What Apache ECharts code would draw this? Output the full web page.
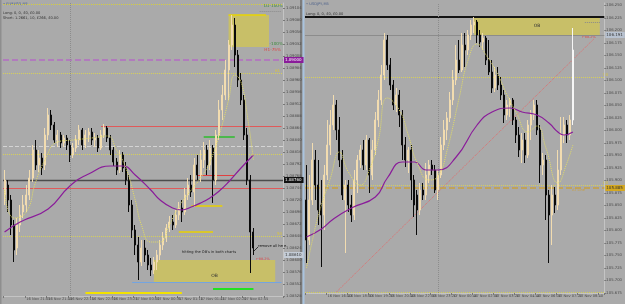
<!DOCTYPE html>
<html><head><meta charset="utf-8">
<script src="https://cdn.jsdelivr.net/npm/echarts@6/dist/echarts.min.js"></script>
<style>html,body{margin:0;padding:0;background:#aaaaaa}#c{width:625px;height:304px}</style>
</head><body><div id="c"></div>
<script>
// ---------- LEFT PANEL (EURUSD M5) ----------
// [open, close, low, high]
const leftCandles = [
[1.08730,1.08760,1.08710,1.08780],[1.08750,1.08720,1.08696,1.08760],[1.08720,1.08670,1.08650,1.08730],
[1.08670,1.08620,1.08596,1.08680],[1.08624,1.08670,1.08610,1.08684],[1.08670,1.08690,1.08656,1.08710],
[1.08696,1.08710,1.08684,1.08730],[1.08710,1.08730,1.08696,1.08750],[1.08730,1.08764,1.08720,1.08780],
[1.08764,1.08820,1.08756,1.08830],[1.08820,1.08790,1.08780,1.08840],[1.08790,1.08804,1.08776,1.08820],
[1.08804,1.08784,1.08770,1.08814],[1.08790,1.08850,1.08780,1.08864],[1.08850,1.08890,1.08840,1.08904],
[1.08890,1.08870,1.08860,1.08900],[1.08870,1.08840,1.08834,1.08876],[1.08840,1.08850,1.08826,1.08860],
[1.08850,1.08834,1.08824,1.08856],[1.08834,1.08844,1.08826,1.08850],[1.08844,1.08830,1.08820,1.08850],
[1.08830,1.08810,1.08796,1.08840],[1.08810,1.08824,1.08804,1.08834],[1.08824,1.08840,1.08816,1.08850],
[1.08840,1.08860,1.08830,1.08870],[1.08860,1.08830,1.08820,1.08864],[1.08830,1.08850,1.08824,1.08860],
[1.08850,1.08856,1.08836,1.08864],[1.08856,1.08840,1.08830,1.08864],[1.08840,1.08844,1.08826,1.08854],
[1.08844,1.08824,1.08816,1.08850],[1.08824,1.08850,1.08820,1.08860],[1.08850,1.08864,1.08844,1.08872],
[1.08864,1.08844,1.08836,1.08868],[1.08844,1.08820,1.08810,1.08850],[1.08820,1.08796,1.08788,1.08826],
[1.08796,1.08780,1.08770,1.08804],[1.08780,1.08810,1.08774,1.08820],[1.08810,1.08784,1.08776,1.08816],
[1.08784,1.08760,1.08750,1.08796],[1.08760,1.08710,1.08696,1.08770],[1.08710,1.08660,1.08644,1.08720],
[1.08660,1.08630,1.08610,1.08670],[1.08630,1.08596,1.08560,1.08646],[1.08596,1.08624,1.08588,1.08640],
[1.08624,1.08610,1.08596,1.08640],[1.08610,1.08590,1.08580,1.08620],[1.08590,1.08580,1.08568,1.08604],
[1.08580,1.08596,1.08572,1.08606],[1.08596,1.08610,1.08580,1.08620],[1.08610,1.08630,1.08600,1.08640],
[1.08630,1.08644,1.08620,1.08656],[1.08644,1.08664,1.08636,1.08672],[1.08664,1.08676,1.08656,1.08688],
[1.08676,1.08670,1.08660,1.08690],[1.08670,1.08690,1.08664,1.08700],[1.08690,1.08704,1.08680,1.08716],
[1.08704,1.08696,1.08676,1.08720],[1.08696,1.08730,1.08690,1.08744],[1.08730,1.08750,1.08720,1.08764],
[1.08750,1.08736,1.08726,1.08770],[1.08736,1.08790,1.08706,1.08804],[1.08790,1.08770,1.08760,1.08810],
[1.08770,1.08800,1.08756,1.08820],[1.08800,1.08820,1.08784,1.08836],[1.08820,1.08790,1.08770,1.08830],
[1.08790,1.08824,1.08780,1.08840],[1.08824,1.08760,1.08714,1.08830],[1.08760,1.08850,1.08750,1.08860],
[1.08850,1.08900,1.08840,1.08920],[1.08900,1.08930,1.08880,1.08950],[1.08930,1.08980,1.08920,1.09000],
[1.08980,1.09030,1.08920,1.09040],[1.09030,1.09070,1.09020,1.09090],[1.09070,1.09010,1.08986,1.09084],
[1.09010,1.08960,1.08946,1.09020],[1.08960,1.08920,1.08910,1.08974],[1.08920,1.08850,1.08840,1.08930],
[1.08850,1.08760,1.08750,1.08864],[1.08760,1.08656,1.08574,1.08770],[1.08656,1.08624,1.08610,1.08664]
];
const leftPurpleMA = [[0,1.08656],[5,1.08676],[14,1.08702],[21,1.08748],[27,1.08772],[34,1.08788],[38,1.08788],
[42,1.08770],[47,1.08740],[50,1.08720],[54,1.08704],[57,1.08700],[60,1.08706],[63,1.08714],[66,1.08724],
[69,1.08738],[72,1.08756],[76,1.08784],[80,1.08810]];
const leftYellowMA = [[0,1.08740],[3,1.08684],[7,1.08696],[10,1.08756],[13,1.08800],[17,1.08836],[22,1.08840],
[28,1.08844],[33,1.08848],[36,1.08820],[39,1.08784],[42,1.08720],[44,1.08670],[47,1.08636],[50,1.08636],
[53,1.08670],[56,1.08706],[60,1.08740],[63,1.08764],[66,1.08796],[69,1.08850],[72,1.08920],[74,1.08970],
[76,1.08956],[78,1.08890],[80,1.08800]];
const leftTickLabels = ['16 Nov 2023','16 Nov 21:05','16 Nov 21:40','16 Nov 22:15','16 Nov 22:50','16 Nov 23:25',
'17 Nov 00:00','17 Nov 00:35','17 Nov 01:10','17 Nov 01:45','17 Nov 02:20','17 Nov 02:55','17 Nov 03:30'];
const leftCategoryCount = 90;
// levels (price)
const L_TOP = 1.09112, L_D1 = 1.09098, L_OBTOP_HI = 1.09090, L_OBTOP_LO = 1.09026, L_PURPLE = 1.09000,
      L_FIB61 = 1.08974, L_RED1 = 1.08868, L_GREEN = 1.08846, L_GRAYDASH = 1.08828, L_DOT2 = 1.08812,
      L_REDSHORT = 1.08770, L_DARK = 1.08760, L_RED2 = 1.08744, L_YEL1 = 1.08708, L_YEL2 = 1.08656,
      L_FIB50 = 1.08648, L_BID = 1.08610, L_OB_HI = 1.08600, L_OB_LO = 1.08556, L_BLUE = 1.08556,
      L_GREENB = 1.08542, L_YELB = 1.08534;

// ---------- RIGHT PANEL ----------
const rightCandles = [
[105.861,105.781,105.735,105.931],[105.781,105.861,105.771,105.911],[105.861,105.941,105.851,105.975],
[105.941,105.891,105.861,105.961],[105.891,105.841,105.811,105.941],[105.851,105.831,105.727,105.901],
[105.831,105.911,105.801,105.931],[105.911,105.971,105.901,106.021],[105.971,106.011,105.951,106.041],
[106.011,106.051,106.001,106.071],[106.051,106.001,105.981,106.061],[106.001,105.941,105.927,106.027],
[105.941,105.871,105.861,105.961],[105.861,105.891,105.755,105.901],[105.891,105.851,105.837,105.901],
[105.851,105.831,105.817,105.871],[105.831,105.901,105.821,105.921],[105.901,105.941,105.875,105.951],
[105.941,105.961,105.925,105.971],[105.961,105.931,105.921,105.981],[105.931,105.981,105.921,105.991],
[105.981,105.911,105.875,105.985],[105.911,105.961,105.901,105.981],[105.961,106.021,105.951,106.037],
[106.021,106.061,106.007,106.081],[106.061,106.111,106.051,106.131],[106.111,106.181,106.101,106.195],
[106.181,106.131,106.121,106.191],[106.131,106.091,106.081,106.145],[106.091,106.051,106.041,106.101],
[106.051,106.071,106.037,106.085],[106.071,106.031,106.007,106.081],[106.031,105.971,105.941,106.041],
[105.971,105.941,105.927,105.987],[105.941,105.961,105.915,105.967],[105.961,105.901,105.861,105.971],
[105.901,105.851,105.827,105.911],[105.871,105.841,105.791,105.881],[105.841,105.881,105.831,105.895],
[105.881,105.871,105.861,105.895],[105.871,105.911,105.861,105.935],[105.911,105.931,105.895,105.941],
[105.931,105.921,105.911,105.941],[105.921,105.881,105.875,105.931],[105.881,105.911,105.861,105.921],
[105.911,105.971,105.905,105.987],[105.971,106.001,105.961,106.021],[106.001,106.025,105.981,106.037],
[106.025,106.061,106.017,106.077],[106.061,106.101,106.051,106.121],[106.101,106.141,106.091,106.171],
[106.141,106.121,106.115,106.181],[106.121,106.171,106.117,106.195],[106.171,106.161,106.127,106.195],
[106.161,106.191,106.151,106.201],[106.191,106.211,106.181,106.221],[106.211,106.217,106.195,106.227],
[106.217,106.191,106.175,106.221],[106.191,106.177,106.167,106.201],[106.177,106.185,106.161,106.195],
[106.185,106.141,106.131,106.189],[106.141,106.117,106.111,106.181],[106.117,106.085,106.075,106.141],
[106.085,106.111,106.077,106.127],[106.111,106.091,106.081,106.127],[106.091,106.071,106.061,106.107],
[106.071,106.031,106.015,106.081],[106.031,106.051,106.021,106.061],[106.051,106.061,106.027,106.065],
[106.061,106.021,106.011,106.065],[106.021,105.991,105.975,106.027],[105.991,105.961,105.947,106.007],
[105.961,105.981,105.935,105.995],[105.981,105.951,105.935,105.995],[105.951,106.011,105.945,106.021],
[106.011,106.031,105.981,106.041],[106.031,106.051,106.021,106.061],[106.051,106.001,105.991,106.061],
[106.001,105.931,105.895,106.011],[105.931,105.941,105.911,105.955],[105.941,105.871,105.821,105.951],
[105.871,105.831,105.735,105.881],[105.831,105.871,105.771,105.891],[105.871,105.851,105.835,105.887],
[105.851,105.921,105.841,105.961],[105.921,105.991,105.911,106.027],[105.991,106.011,105.975,106.027],
[106.011,105.991,105.975,106.021],[105.991,106.021,105.981,106.031],[106.021,106.161,106.011,106.205]
];
const rightPurpleMA = [[0,105.787],[5,105.803],[9,105.823],[15,105.845],[23,105.867],[27,105.905],[32,105.937],
[36,105.937],[40,105.921],[44,105.921],[50,105.947],[57,106.011],[62,106.037],[68,106.045],[72,106.037],
[77,106.031],[81,106.015],[84,105.997],[86,105.991],[89,105.997]];
const rightYellowMA = [[0,105.725],[2,105.781],[4,105.831],[8,105.905],[11,105.957],[14,105.917],[18,105.891],
[21,105.921],[24,105.981],[27,106.065],[31,106.041],[34,105.991],[37,105.935],[41,105.901],[44,105.909],
[47,105.961],[51,106.065],[54,106.141],[57,106.173],[60,106.151],[64,106.111],[67,106.071],[70,106.037],
[74,105.997],[77,106.009],[80,105.965],[84,105.895],[87,105.935],[89,105.971]];
const rightTickLabels = ['16 Nov 2023','16 Nov 16:40','16 Nov 18:00','16 Nov 19:20','16 Nov 20:40','16 Nov 22:00',
'16 Nov 23:20','17 Nov 00:40','17 Nov 02:00','17 Nov 03:20','17 Nov 04:40','17 Nov 06:00','17 Nov 07:20',
'17 Nov 08:40','17 Nov 10:00'];
const rightCategoryCount = 100;
const R_BLACK = 106.227, R_OB_HI = 106.229, R_OB_LO = 106.191, R_BID = 106.191, R_DOTSHORT = 106.217,
      R_FIB50 = 106.107, R_DOT60 = 105.891, R_GOLD = 105.885, R_BOTTOM = 105.677,
      R_TREND_A = 105.677, R_TREND_B = 106.183;

// ---------- build ----------
const leftCats = Array.from({length: leftCategoryCount}, (_, i) => 'L' + i);
const rightCats = Array.from({length: rightCategoryCount}, (_, i) => 'R' + i);
const FONT = 'DejaVu Sans';
const candleStyle = {color:'#f2dcb0', color0:'#0a0a0a', borderColor:'#f2dcb0', borderColor0:'#0a0a0a', borderWidth:1};
const rightData = rightCandles.map((c, i) => i === rightCandles.length - 1
  ? {value:c, itemStyle:{color:'#f6f6f6', borderColor:'#f6f6f6'}} : c);

function hline(v, color, type, width, extra) {
  return Object.assign({yAxis:v, lineStyle:{color, type, width}}, extra || {});
}
function seg(x1, x2, v, color, type, width) {
  return [{coord:[x1, v], lineStyle:{color, type, width}}, {coord:[x2, v]}];
}
function boxLabel(bg, fg, dec) {
  return {show:true, position:'end', distance:1, formatter:p => Number(p.value).toFixed(dec),
    backgroundColor:bg, color:fg, fontSize:4, fontFamily:FONT, padding:[1,2,1,1]};
}

const option = {
  animation:false,
  backgroundColor:'#aaaaaa',
  grid:[
    {left:3, right:342, top:3, bottom:8},
    {left:305, right:15, top:3, bottom:11}
  ],
  xAxis:[
    {type:'category', gridIndex:0, data:leftCats, boundaryGap:true,
     axisLine:{lineStyle:{color:'#c4c4c4'}}, axisTick:{show:true, interval:6, length:2, lineStyle:{color:'#777'}},
     axisLabel:{interval:6, fontSize:3.6, color:'#4a4a4a', fontFamily:FONT, margin:1, align:'left',
       formatter:(v, i) => leftTickLabels[Math.round(i/7)] || ''}, splitLine:{show:false}},
    {type:'category', gridIndex:1, data:rightCats, boundaryGap:true,
     axisLine:{lineStyle:{color:'#c4c4c4'}}, axisTick:{show:true, interval:6, length:2, lineStyle:{color:'#777'}},
     axisLabel:{interval:6, fontSize:3.6, color:'#4a4a4a', fontFamily:FONT, margin:1, align:'left',
       formatter:(v, i) => rightTickLabels[Math.round(i/7)] || ''}, splitLine:{show:false}}
  ],
  yAxis:[
    {type:'value', gridIndex:0, position:'right', min:1.08528, max:1.09114, interval:0.00024, scale:true,
     axisLine:{show:true, lineStyle:{color:'#c4c4c4'}}, axisTick:{show:true, length:2, lineStyle:{color:'#777'}},
     axisLabel:{fontSize:3.8, color:'#4a4a4a', fontFamily:FONT, margin:3, showMaxLabel:false,
       formatter:v => v.toFixed(5)}, splitLine:{show:false}},
    {type:'value', gridIndex:1, position:'right', min:105.675, max:106.255, interval:0.025, scale:true,
     axisLine:{show:true, lineStyle:{color:'#c4c4c4'}}, axisTick:{show:true, length:2, lineStyle:{color:'#777'}},
     axisLabel:{fontSize:3.8, color:'#4a4a4a', fontFamily:FONT, margin:2, showMaxLabel:false,
       formatter:v => v.toFixed(3)}, splitLine:{show:false}}
  ],
  series:[
    {type:'candlestick', xAxisIndex:0, yAxisIndex:0, data:leftCandles, barMaxWidth:2, itemStyle:candleStyle, z:3,
     markArea:{silent:true, z:1, data:[
       [{coord:[72, L_OBTOP_HI], itemStyle:{color:'#c8bf68'}}, {coord:[85, L_OBTOP_LO]}],
       [{coord:[48, L_OB_HI], itemStyle:{color:'#c8bf68'},
         label:{show:true, formatter:'OB', position:'insideBottom', distance:4, fontSize:4.5, color:'#333', fontFamily:FONT}},
        {coord:[87, L_OB_LO]}]
     ]},
     markLine:{silent:true, precision:5, symbol:['none','none'], label:{show:false}, z:2, data:[
       hline(L_TOP, '#d6cf3c', 'dotted', 1),
       seg(82, 89, L_D1, '#8a8a8a', 'dotted', 1),
       seg(72, 84, L_OBTOP_HI, '#e8d400', 'solid', 1.5),
       hline(L_PURPLE, '#b46cc4', 'dashed', 1.5, {label:boxLabel('#8a1c9a', '#ffffff', 5)}),
       hline(L_FIB61, '#d6cf5a', 'dotted', 1),
       seg(31, 89, L_RED1, '#e05a5a', 'solid', 1),
       seg(64, 74, L_GREEN, '#2cbc2c', 'solid', 1.5),
       hline(L_GRAYDASH, '#d4d4d4', 'dashed', 1),
       hline(L_DOT2, '#d6cf5a', 'dotted', 1),
       seg(62, 74, L_REDSHORT, '#e04040', 'solid', 1.2),
       hline(L_DARK, '#4c4c4c', 'solid', 1.3, {label:boxLabel('#111111', '#ffffff', 5)}),
       hline(L_RED2, '#e05a5a', 'solid', 1.2),
       seg(60, 70, L_YEL1, '#e8d000', 'solid', 1.5),
       seg(56, 67, L_YEL2, '#e8d000', 'solid', 1.5),
       hline(L_FIB50, '#d6cf5a', 'dotted', 1),
       hline(L_BID, 'rgba(0,0,0,0)', 'solid', 1, {label:boxLabel('#c4ccd6', '#333', 5)}),
       seg(41, 89, L_BLUE, '#74a4e0', 'solid', 1.2),
       seg(67, 80, L_GREENB, '#22e022', 'solid', 2),
       seg(26, 57, L_YELB, '#f2e200', 'solid', 2),
       {xAxis:21, lineStyle:{color:'#8c8c8c', type:'dotted', width:1}}
     ]}},
    {type:'line', xAxisIndex:0, yAxisIndex:0, data:leftPurpleMA, smooth:0.5, showSymbol:false, z:4,
     lineStyle:{color:'#8a1c9a', width:1.2}},
    {type:'line', xAxisIndex:0, yAxisIndex:0, data:leftYellowMA, smooth:0.5, showSymbol:false, z:4,
     lineStyle:{color:'#e2dc66', width:1, type:'dotted'}},

    {type:'candlestick', xAxisIndex:1, yAxisIndex:1, data:rightData, barMaxWidth:2, itemStyle:candleStyle, z:3,
     markArea:{silent:true, z:1, data:[
       [{coord:[56, R_OB_HI], itemStyle:{color:'#c8bf68'},
         label:{show:true, formatter:'OB', position:'inside', fontSize:4.5, color:'#333', fontFamily:FONT}},
        {coord:[98, R_OB_LO]}]
     ]},
     markLine:{silent:true, precision:3, symbol:['none','none'], label:{show:false}, z:2, data:[
       hline(R_BLACK, '#141414', 'solid', 2),
       hline(R_BID, '#8c8c8c', 'solid', 1, {label:boxLabel('#b8c2d0', '#333', 3)}),
       seg(93, 98, R_DOTSHORT, '#8a8a8a', 'dotted', 1),
       [{coord:[10, R_TREND_A], lineStyle:{color:'#e46a6a', type:'dotted', width:1}}, {coord:[96, R_TREND_B]}],
       hline(R_FIB50, '#d6cf5a', 'dotted', 1),
       hline(R_DOT60, '#d6cf5a', 'dotted', 1),
       hline(R_GOLD, '#c8a040', 'dashed', 1.5, {label:boxLabel('#d4a820', '#333', 3)}),
       hline(R_BOTTOM, '#d6cf5a', 'dotted', 1),
       {xAxis:44, lineStyle:{color:'#8c8c8c', type:'dotted', width:1}}
     ]}},
    {type:'line', xAxisIndex:1, yAxisIndex:1, data:rightPurpleMA, smooth:0.5, showSymbol:false, z:4,
     lineStyle:{color:'#8a1c9a', width:1.2}},
    {type:'line', xAxisIndex:1, yAxisIndex:1, data:rightYellowMA, smooth:0.5, showSymbol:false, z:4,
     lineStyle:{color:'#e2dc66', width:1, type:'dotted'}}
  ],
  graphic:[
    {type:'rect', shape:{x:0, y:0, width:1.5, height:304}, style:{fill:'#8e8e8e'}, silent:true},
    {type:'rect', shape:{x:300, y:0, width:2.5, height:304}, style:{fill:'#7c7c7c'}, silent:true},
    {type:'rect', shape:{x:302.5, y:0, width:2, height:304}, style:{fill:'#a9c3de'}, silent:true},
    {type:'text', style:{text:'• EURUSD,M5', x:3, y:4, fill:'#4a5f8a', fontSize:3.6, fontFamily:FONT, verticalAlign:'middle'}},
    {type:'text', style:{text:'Long: 0, 0, £0, £0.00', x:3, y:13, fill:'#333', fontSize:3.6, fontFamily:FONT, verticalAlign:'middle'}},
    {type:'text', style:{text:'Short: 1.2661, 10, £266, £0.00', x:3, y:18, fill:'#333', fontSize:3.6, fontFamily:FONT, verticalAlign:'middle'}},
    {type:'text', style:{text:'D1-100%', x:283, y:6, fill:'#3c8c3c', fontSize:4.2, fontFamily:FONT, align:'right', verticalAlign:'middle'}},
    {type:'text', style:{text:'H1-100%', x:283, y:44, fill:'#3c8c3c', fontSize:4.2, fontFamily:FONT, align:'right', verticalAlign:'middle'}},
    {type:'text', style:{text:'H1-75%', x:281, y:50, fill:'#e04040', fontSize:4.2, fontFamily:FONT, align:'right', verticalAlign:'middle'}},
    {type:'text', style:{text:'61', x:280, y:71, fill:'#d8c440', fontSize:4, fontFamily:FONT, align:'right', verticalAlign:'middle'}},
    {type:'text', style:{text:'50', x:282, y:234, fill:'#d8c440', fontSize:4, fontFamily:FONT, align:'right', verticalAlign:'middle'}},
    {type:'text', style:{text:"hitting the OB's in both charts", x:209, y:252, fill:'#1c1c1c', fontSize:3.6, fontFamily:FONT, align:'center', verticalAlign:'middle'}},
    {type:'text', style:{text:'remove all here', x:258, y:246, fill:'#111', fontSize:3.6, fontFamily:FONT, verticalAlign:'middle'}},
    {type:'line', shape:{x1:253, y1:252, x2:258, y2:247}, style:{stroke:'#111', lineWidth:0.8}},
    {type:'text', style:{text:'←88.2%', x:256, y:259, fill:'#e04040', fontSize:3.4, fontFamily:FONT, verticalAlign:'middle'}},
    {type:'text', style:{text:'• USDJPY,M5', x:306, y:4, fill:'#4a5f8a', fontSize:3.6, fontFamily:FONT, verticalAlign:'middle'}},
    {type:'text', style:{text:'Long: 0, 0, £0, £0.00', x:306, y:14, fill:'#333', fontSize:3.6, fontFamily:FONT, verticalAlign:'middle'}},
    {type:'text', style:{text:'←88.2%', x:582, y:37, fill:'#e04040', fontSize:3.4, fontFamily:FONT, verticalAlign:'middle'}},
    {type:'text', style:{text:'50', x:608, y:75, fill:'#d8c440', fontSize:4, fontFamily:FONT, align:'right', verticalAlign:'middle'}},
    {type:'text', style:{text:'60', x:608, y:183, fill:'#d8c440', fontSize:4, fontFamily:FONT, align:'right', verticalAlign:'middle'}},
    {type:'text', style:{text:'AT Line', x:572, y:190, fill:'#c8a040', fontSize:3.6, fontFamily:FONT, verticalAlign:'middle'}}
  ]
};
const chart = echarts.init(document.getElementById('c'), null, {renderer:'canvas'});
chart.setOption(option);
</script>
</body></html>
